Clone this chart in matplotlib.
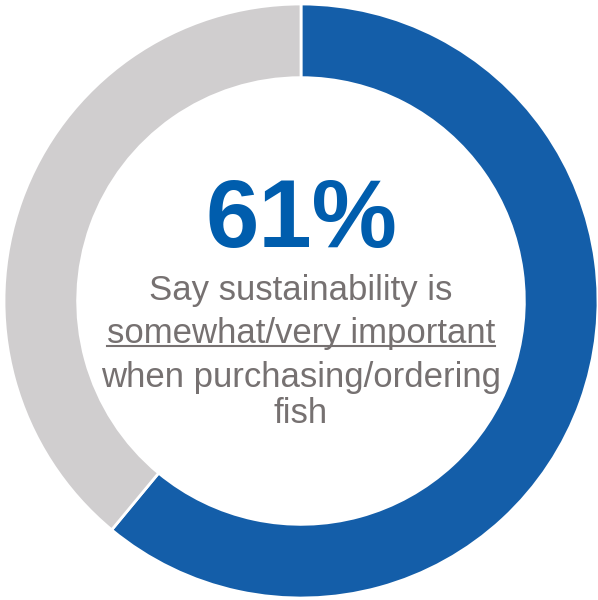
import matplotlib.pyplot as plt

shares = [61, 39]
colors = ['#145EA9', '#D0CECF']
big_label = "61%"
lines = ["Say sustainability is", "somewhat/very important",
         "when purchasing/ordering", "fish"]

W, H = 598, 600
fig = plt.figure(figsize=(W / 100, H / 100), dpi=100)
ax = fig.add_axes([0, 0, 1, 1])

cx, cy, r = 301, H - 301, 297
ax.pie(shares, colors=colors, startangle=90, counterclock=False,
       center=(cx, cy), radius=r, frame=True,
       wedgeprops=dict(width=r * 0.248, edgecolor='white', linewidth=2))
ax.set_xlim(0, W)
ax.set_ylim(0, H)
ax.set_aspect('equal')
ax.axis('off')

plt.rcParams['font.family'] = ['Liberation Sans', 'DejaVu Sans']
ax.text(cx, H - 247, big_label, ha='center', va='baseline', fontsize=69,
        fontweight='bold', color='#005DAD')

gray = '#767171'
baselines = [300, 343, 387, 423]
texts = []
for s, b in zip(lines, baselines):
    t = ax.text(cx, H - b, s, ha='center', va='baseline', fontsize=25, color=gray)
    texts.append(t)

# underline the second line
fig.canvas.draw()
bb = texts[1].get_window_extent().transformed(ax.transData.inverted())
ax.plot([bb.x0, bb.x1], [H - 346, H - 346], color=gray, linewidth=1.5)

fig.savefig("out.png", dpi=100)
